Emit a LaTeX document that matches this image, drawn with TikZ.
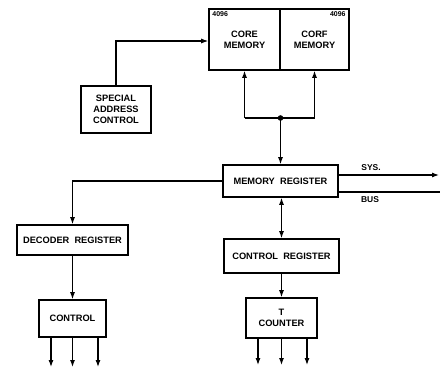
\documentclass[tikz,border=0pt]{standalone}
\usepackage{fontspec}
\setmainfont{Liberation Sans}
\usetikzlibrary{arrows.meta,calc}
\begin{document}
\begin{tikzpicture}[x=1bp,y=-1bp,
  box/.style={draw,line width=1.6bp,inner sep=0pt,align=center,font=\bfseries\fontsize{9.3}{11}\selectfont},
  conn/.style={line width=1.1bp},
  arr/.style={conn,-{Latex[length=7bp,width=5bp]}},
  darr/.style={conn,{Latex[length=7bp,width=5bp]}-{Latex[length=7bp,width=5bp]}},
  lbl/.style={font=\bfseries\fontsize{8.5}{9}\selectfont,inner sep=0pt},
  small/.style={font=\bfseries\fontsize{7}{7}\selectfont,inner sep=0pt}]
\useasboundingbox (0,0) rectangle (440,370);
% core memories
\node[box,minimum width=71bp,minimum height=61bp] (core1) at (244.5,39.5) {CORE\\MEMORY};
\node[box,minimum width=69bp,minimum height=61bp] (core2) at (314.5,39.5) {CORF\\MEMORY};
\node[small,anchor=north west] (n1) at ($(core1.north west)+(4,3.5)$) {4096};
\node[small,anchor=north east] (n2) at ($(core2.north east)+(-4,3.5)$) {4096};
% special address control
\node[box,minimum width=70bp,minimum height=47bp] (sac) at (116,109.5) {SPECIAL\\ADDRESS\\CONTROL};
% memory register
\node[box,minimum width=115bp,minimum height=32bp] (mreg) at (280.5,181) {MEMORY\ \ REGISTER};
% control register
\node[box,minimum width=115bp,minimum height=34bp] (creg) at (281.5,256) {CONTROL\ \ REGISTER};
% T counter
\node[box,minimum width=71bp,minimum height=40bp] (tc) at (281.5,318) {T\\COUNTER};
% decoder register
\node[box,minimum width=111bp,minimum height=30bp] (dreg) at (72.5,240) {DECODER\ \ REGISTER};
% control
\node[box,minimum width=67bp,minimum height=37bp] (ctl) at (72.5,318.5) {CONTROL};

% junction
\coordinate (j1) at (core1.south |- 0,118);
\coordinate (j2) at (core2.south |- 0,118);
\coordinate (jd) at (mreg.north |- 0,118);
\draw[conn] (j1) -- (j2);
\fill (jd) circle (2.8bp);
\draw[arr] (j1) -- (core1.south);
\draw[arr] (j2) -- (core2.south);
\draw[arr] (jd) -- (mreg.north);

% special address control to core
\draw[arr] (sac.north) |- (core1.west |- 0,41);

% memory register to decoder
\draw[arr] (mreg.west) -| (dreg.north);
\draw[arr] (dreg.south) -- (ctl.north);

% memory register to control register
\draw[darr] (mreg.south -| creg.north) -- (creg.north);
\draw[arr] (creg.south) -- (tc.north);

% system bus
\coordinate (sysend) at (439,175);
\coordinate (busend) at (440,192);
\draw[arr] (mreg.east |- sysend) -- (sysend);
\draw[conn] (mreg.east |- busend) -- (busend);
\node[lbl] (sys) at (371,168) {SYS.};
\node[lbl] (bus) at (370,200) {BUS};

% outputs of control
\coordinate (c1) at (51,367);
\coordinate (c2) at (72.5,367);
\coordinate (c3) at (98,367);
\draw[arr] (ctl.south -| c1) -- (c1);
\draw[arr] (ctl.south -| c2) -- (c2);
\draw[arr] (ctl.south -| c3) -- (c3);
% outputs of T counter
\coordinate (t1) at (258,365);
\coordinate (t2) at (281.5,365);
\coordinate (t3) at (307,365);
\draw[arr] (tc.south -| t1) -- (t1);
\draw[arr] (tc.south -| t2) -- (t2);
\draw[arr] (tc.south -| t3) -- (t3);
\end{tikzpicture}
\end{document}
